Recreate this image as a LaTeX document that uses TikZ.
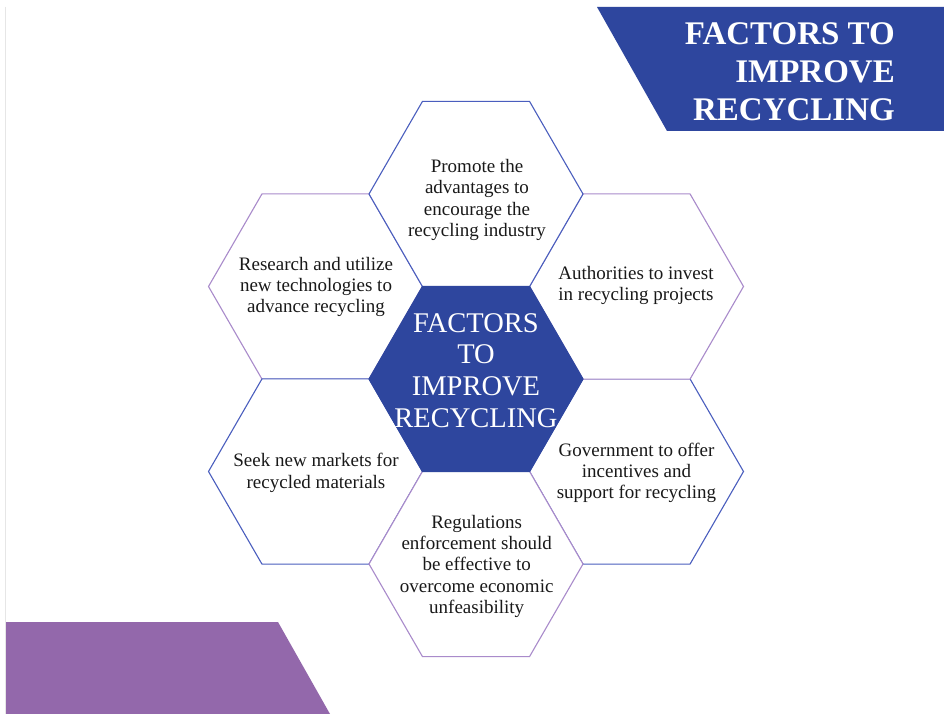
\documentclass[tikz,border=0pt]{standalone}
\usepackage{fontspec}
\setmainfont{Liberation Serif}
\usetikzlibrary{shapes.geometric}
\definecolor{navy}{HTML}{2E469E}
\definecolor{plum}{HTML}{9368AB}
\definecolor{hexblue}{HTML}{4A5EBE}
\definecolor{hexplum}{HTML}{A98BCB}
\definecolor{frameline}{HTML}{E6E6E6}
\begin{document}
\begin{tikzpicture}[x=1pt,y=-1pt,
  hexa/.style={regular polygon, regular polygon sides=6,
    minimum size=214pt, inner sep=0pt, outer sep=0pt, line width=1.1pt, fill=white},
  hexb/.style={hexa, draw=hexblue},
  hexp/.style={hexa, draw=hexplum},
  hextext/.style={align=center, inner sep=0pt, text=black!90,
    font=\fontsize{19}{21.3}\selectfont},
]
\useasboundingbox (0,0) rectangle (944,714);
\fill[white] (0,0) rectangle (944,714);
% left frame line
\draw[frameline, line width=1pt] (5.5,7) -- (5.5,714);
% title banner
\fill[navy] (597,7) -- (944,7) -- (944,131) -- (667,131) -- cycle;
\node[anchor=east, inner sep=0pt, align=right, text=white,
  font=\fontsize{33}{38}\selectfont\bfseries] (title) at (895,72)
  {FACTORS TO\\IMPROVE\\RECYCLING};
% bottom-left purple band
\fill[plum] (6,622) -- (278,622) -- (330,714) -- (6,714) -- cycle;
% hexagons (order sets which outline shows on shared edges)
\node[hexb] (lr) at (636.5,471.5) {};
\node[hexp] (ul) at (315.5,286.5) {};
\node[hexp] (ur) at (636.5,286.5) {};
\node[hexb] (ll) at (315.5,471.5) {};
\node[hexb] (top) at (476,194) {};
\node[hexp] (bot) at (476,564) {};
\node[hexa, fill=navy, draw=navy] (ctr) at (476,379) {};
% texts
\node[hextext] (toptext) at (477,200) {Promote the\\advantages to\\encourage the\\recycling industry};
\node[hextext] (urtext) at (636,285.7) {Authorities to invest\\in recycling projects};
\node[hextext] (ultext) at (316,286.9) {Research and utilize\\new technologies to\\advance recycling};
\node[hextext] (lltext) at (316,473) {Seek new markets for\\recycled materials};
\node[hextext] (lrtext) at (636.5,472.7) {Government to offer\\incentives and\\support for recycling};
\node[hextext] (bottext) at (476.7,566.3) {Regulations\\enforcement should\\be effective to\\overcome economic\\unfeasibility};
\node[align=center, inner sep=0pt, text=white, font=\fontsize{28.5}{31.8}\selectfont]
  (ctrtext) at (476,370.5) {FACTORS\\TO\\IMPROVE\\RECYCLING};
\end{tikzpicture}
\end{document}
